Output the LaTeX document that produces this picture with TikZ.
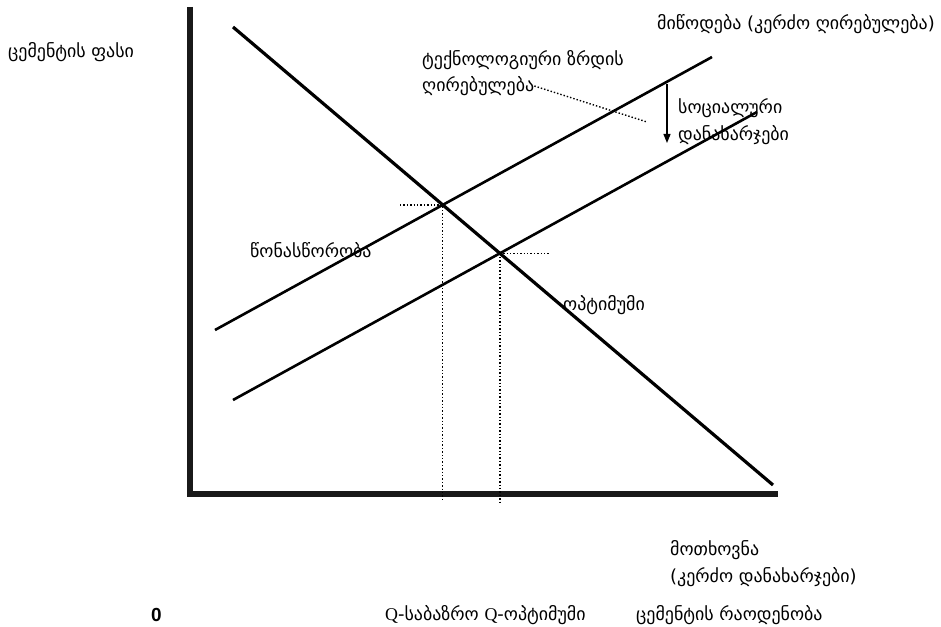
\documentclass[tikz,border=0pt]{standalone}
\usepackage{fontspec}
\setmainfont{DejaVu Sans}
\newfontfamily\qfont{Liberation Serif}
\newfontfamily\zfont{Liberation Sans}
\usetikzlibrary{arrows.meta}
\begin{document}
\begin{tikzpicture}[x=1bp,y=-1bp,
  lbl/.style={anchor=west,inner sep=0pt,font=\fontsize{18}{20}\selectfont},
  axisline/.style={line width=5.5bp,black!90},
  curve/.style={line width=2.6bp},
  dline/.style={line width=3.2bp},
  guide/.style={line width=1.4bp,dash pattern=on 1.4bp off 2bp}]
\useasboundingbox (0,0) rectangle (941,627);
% axes
\coordinate (ytop) at (190,7);
\coordinate (orig) at (190,494);
\coordinate (xend) at (778,494);
\draw[axisline] (ytop) -- (orig) -- (xend);
% curves
\coordinate (s1a) at (215,330); \coordinate (s1b) at (712,57);
\coordinate (s2a) at (233,400); \coordinate (s2b) at (757,112);
\coordinate (da) at (233,27);  \coordinate (db) at (773,485);
\draw[curve] (s1a) -- (s1b);
\draw[curve] (s2a) -- (s2b);
\draw[dline] (da) -- (db);
\coordinate (eq) at (intersection of s1a--s1b and da--db);
\coordinate (opt) at (intersection of s2a--s2b and da--db);
% guides
\coordinate (eqL) at (400,0);
\coordinate (optR) at (550,0);
\coordinate (bot) at (0,502);
\draw[guide] (eqL |- eq) -- (eq) -- (eq |- bot);
\draw[guide] (opt) -- (optR |- opt);
\draw[guide] (opt) -- (opt |- bot);
% labels
\node[lbl] (price) at (8,52) {ცემენტის ფასი};
\node[lbl,anchor=east] (supply) at (935,24) {მიწოდება (კერძო ღირებულება)};
\node[lbl] (tech1) at (422,60) {ტექნოლოგიური ზრდის};
\node[lbl] (tech2) at (422,86) {ღირებულება};
\coordinate (techend) at (647,122);
\draw[guide] (tech2.east) -- (techend);
\node[lbl] (soc1) at (678,108) {სოციალური};
\node[lbl] (soc2) at (678,135) {დანახარჯები};
\coordinate (arrT) at (667,84);
\coordinate (arrB) at (667,143);
\draw[line width=1.3bp,-{Triangle[length=9bp,width=7bp]}] (arrT) -- (arrB);
\node[lbl] (equil) at (250,250) {წონასწორობა};
\node[lbl] (optl) at (563,305) {ოპტიმუმი};
\node[lbl] (dem1) at (670,550) {მოთხოვნა};
\node[lbl] (dem2) at (670,577) {(კერძო დანახარჯები)};
\node[anchor=west,inner sep=0pt,font=\zfont\bfseries\fontsize{19}{21}\selectfont] (zero) at (151,615) {0};
\node[lbl] (qlab) at (385,615) {{\qfont Q}-საბაზრო {\qfont Q}-ოპტიმუმი};
\node[lbl] (qty) at (636,615) {ცემენტის რაოდენობა};
\end{tikzpicture}
\end{document}
